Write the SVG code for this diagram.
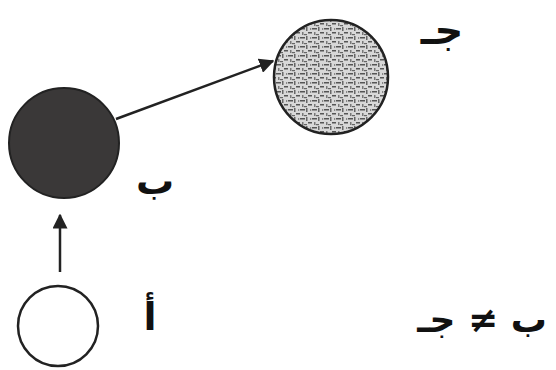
<svg xmlns="http://www.w3.org/2000/svg" width="556" height="370" viewBox="0 0 556 370">
<style>
.lbl{font-family:"DejaVu Sans",sans-serif;font-weight:bold;fill:#111;}
.edge{stroke:#222;stroke-width:2.5;fill:none;marker-end:url(#ah);}
</style>
<defs>
<marker id="ah" viewBox="0 0 10 10" refX="9" refY="5" markerWidth="6" markerHeight="6" markerUnits="strokeWidth" orient="auto">
<path d="M0,0 L10,5 L0,10 z" fill="#222"/>
</marker>
<pattern id="stip" width="12" height="9" patternUnits="userSpaceOnUse">
<rect width="12" height="9" fill="#d8d8d8"/>
<rect x="0" y="1" width="5" height="1.5" fill="#555"/>
<rect x="6" y="0" width="1.5" height="4" fill="#666"/>
<rect x="8" y="5" width="4" height="1.5" fill="#555"/>
<rect x="2" y="5" width="1.5" height="3" fill="#777"/>
<rect x="4" y="7" width="3" height="1.2" fill="#666"/>
<rect x="10" y="1" width="1.2" height="2" fill="#888"/>
</pattern>
</defs>
<rect width="556" height="370" fill="#fff"/>
<g id="connectors">
<line class="edge" x1="60" y1="272" x2="60" y2="215"/>
<line class="edge" x1="116" y1="119" x2="273" y2="61"/>
</g>
<g id="node-a">
<circle cx="58" cy="326" r="40" fill="#fff" stroke="#222" stroke-width="2.5"/>
<text class="lbl" x="150" y="330" font-size="38" text-anchor="middle">أ</text>
</g>
<g id="node-b">
<circle cx="64" cy="143" r="55" fill="#3a3838" stroke="#222" stroke-width="2"/>
<text class="lbl" x="155" y="194" font-size="38" text-anchor="middle">ب</text>
</g>
<g id="node-c">
<circle cx="331" cy="77" r="57" fill="url(#stip)" stroke="#222" stroke-width="2.5"/>
<text class="lbl" x="442" y="44" font-size="40" text-anchor="middle">جـ</text>
</g>
<text class="lbl" x="482" y="332" font-size="36" text-anchor="middle" direction="rtl">ب ≠ جـ</text>
</svg>
